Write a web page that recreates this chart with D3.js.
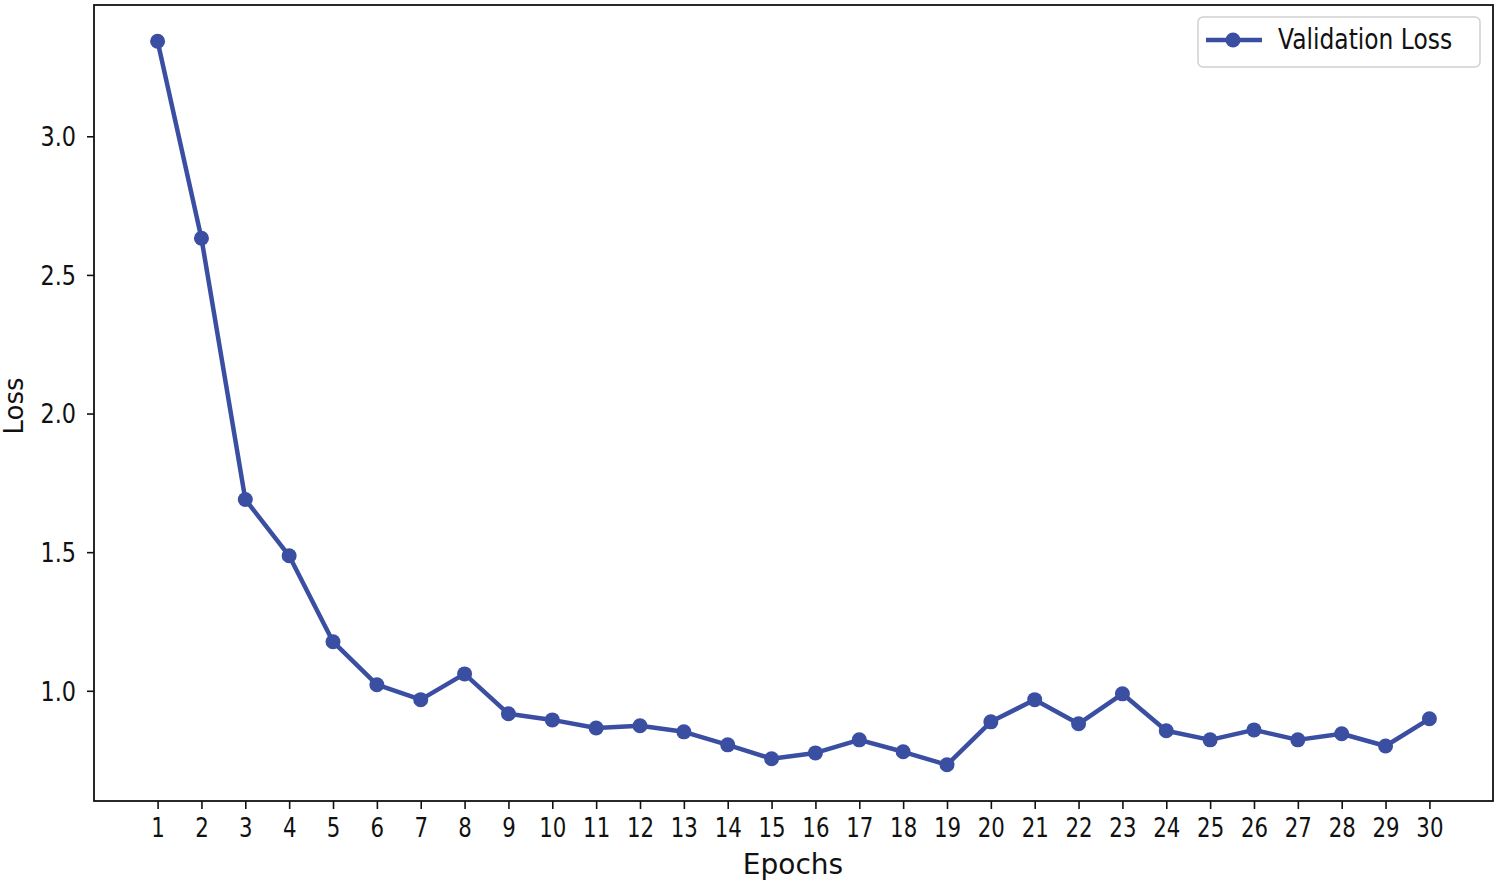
<!DOCTYPE html>
<html><head><meta charset="utf-8">
<script src="https://cdn.jsdelivr.net/npm/d3@7"></script>
<style>body{margin:0;background:#fff}svg{display:block}text{font-family:"DejaVu Sans",sans-serif;fill:#111}</style>
</head><body><svg id="c" width="1500" height="886"></svg>
<script>
const epochs = d3.range(1, 31);
const validationLoss = [3.343,2.632,1.690,1.487,1.177,1.022,0.968,1.061,0.917,0.895,0.866,0.874,0.852,0.805,0.755,0.776,0.823,0.780,0.733,0.888,0.968,0.881,0.989,0.856,0.823,0.859,0.823,0.845,0.801,0.899];
const yTicks = [1.0,1.5,2.0,2.5,3.0];
const seriesName = "Validation Loss";
const color = "#3a4ea2";

const svg = d3.select("#c");
const L=94, R=1493, T=5, B=801;
const x = d3.scaleLinear().domain([1-1.45, 30+1.45]).range([L,R]);
const ymin = d3.min(validationLoss), ymax = d3.max(validationLoss), pad=(ymax-ymin)*0.05;
const y = d3.scaleLinear().domain([ymin-pad, ymax+pad]).range([B,T]);

// x axis
const xa = svg.append("g").attr("transform",`translate(0,${B})`)
  .call(d3.axisBottom(x).tickValues(epochs).tickSize(8).tickFormat(d3.format("d")));
xa.select(".domain").remove();
xa.selectAll("line").attr("stroke","#111").attr("stroke-width",1.6);
xa.selectAll("text").attr("font-size",26).attr("dy",0).attr("y",0)
  .attr("transform","translate(0,36) scale(0.82,1)");

// y axis
const ya = svg.append("g").attr("transform",`translate(${L},0)`)
  .call(d3.axisLeft(y).tickValues(yTicks).tickSize(7).tickFormat(d3.format(".1f")));
ya.select(".domain").remove();
ya.selectAll("line").attr("stroke","#111").attr("stroke-width",1.6);
ya.selectAll("text").attr("font-size",26).attr("x",0).attr("dy","0.36em")
  .attr("transform","translate(-18,0) scale(0.86,1)");

// frame
svg.append("rect").attr("x",L).attr("y",T).attr("width",R-L).attr("height",B-T)
  .attr("fill","none").attr("stroke","#111").attr("stroke-width",1.8);

// labels
svg.append("text").attr("x",793).attr("y",874).attr("text-anchor","middle").attr("font-size",28).text("Epochs");
svg.append("text").attr("transform","translate(23,406) rotate(-90)")
  .attr("text-anchor","middle").attr("font-size",26).text("Loss");

// line
const line = d3.line().x((d,i)=>x(epochs[i])).y(d=>y(d));
svg.append("path").datum(validationLoss).attr("d",line).attr("fill","none")
  .attr("stroke",color).attr("stroke-width",4.5).attr("stroke-linejoin","round");
svg.selectAll("circle.pt").data(validationLoss).enter().append("circle").attr("class","pt")
  .attr("cx",(d,i)=>x(epochs[i])).attr("cy",d=>y(d)).attr("r",7.5).attr("fill",color);

// legend
const lg = svg.append("g");
lg.append("rect").attr("x",1198).attr("y",17).attr("width",282).attr("height",50).attr("rx",5)
  .attr("fill","#fff").attr("stroke","#d0d0d0").attr("stroke-width",1.5);
lg.append("line").attr("x1",1206).attr("x2",1262).attr("y1",40).attr("y2",40).attr("stroke",color).attr("stroke-width",4.5);
lg.append("circle").attr("cx",1233).attr("cy",40).attr("r",7.5).attr("fill",color);
lg.append("text").attr("transform","translate(1278,49) scale(0.85,1)").attr("font-size",27.5).text(seriesName);
</script></body></html>
